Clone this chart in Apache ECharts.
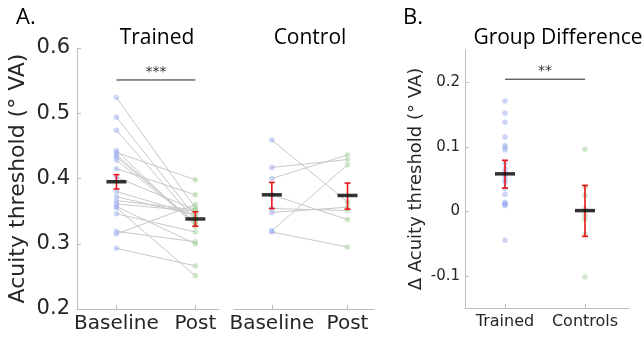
<!DOCTYPE html>
<html><head><meta charset="utf-8">
<script src="https://cdn.jsdelivr.net/npm/echarts@6/dist/echarts.min.js"></script>
<style>html,body{margin:0;padding:0;background:#fff}#c{width:644px;height:337px}</style>
</head><body><div id="c"></div>
<script>
// ---- data ----
const phaseLabels = ['Baseline', 'Post'];
const groupLabels = ['Trained', 'Controls'];
const yTicksA = [0.2, 0.3, 0.4, 0.5, 0.6];
const yTicksB = [-0.1, 0, 0.1, 0.2];

const trainedBaseline = [0.524,0.494,0.474,0.443,0.440,0.436,0.433,0.428,0.415,0.402,0.380,0.372,0.366,0.361,0.357,0.355,0.346,0.319,0.315,0.293];
const trainedPost     = [0.355,0.341,0.336,0.327,0.398,0.332,0.333,0.332,0.375,0.352,0.344,0.344,0.352,0.350,0.300,0.251,0.318,0.303,0.360,0.266];
const controlBaseline = [0.459,0.417,0.400,0.375,0.354,0.348,0.320,0.318];
const controlPost     = [0.364,0.429,0.436,0.337,0.351,0.356,0.421,0.295];

const trainedDiff = [0.171,0.152,0.138,0.115,0.102,0.099,0.095,0.075,0.066,0.060,0.055,0.049,0.045,0.035,0.026,0.014,0.012,0.010,0.009,-0.045];
const controlDiff = [0.096,0.038,0.025,0.003,-0.006,-0.012,-0.036,-0.102];

const trainedMeans = [0.395, 0.338];
const trainedErrLow = [0.384, 0.327];
const trainedErrHigh = [0.406, 0.349];
const controlMeans = [0.375, 0.374];
const controlErrLow = [0.354, 0.353];
const controlErrHigh = [0.394, 0.393];
const diffMeans = [0.058, 0.001];
const diffErrLow = [0.036, -0.039];
const diffErrHigh = [0.079, 0.040];

const sigA = {x: [1, 2], y: 0.551, text: '***'};
const sigB = {x: [1, 2], y: 0.2047, text: '**'};

// ---- styling ----
const AX = '#bdbdbd', TXT = '#262626';
const BLUE = 'rgba(150,168,238,0.6)', GREEN = 'rgba(170,212,160,0.7)', GREY = '#c8c8c8';
const FONT = 'DejaVu Sans';

const chart = echarts.init(document.getElementById('c'), null, {renderer: 'canvas'});

function xAxisCfg(grid, min, max, labels, fs, margin) {
  return {
    gridIndex: grid, type: 'value', min: min, max: max,
    axisLine: {show: true, onZero: false, lineStyle: {color: AX, width: 1}},
    axisTick: {show: true, inside: true, length: 4, customValues: [1, 2], lineStyle: {color: AX}},
    axisLabel: {customValues: [1, 2], formatter: v => labels[Math.round(v) - 1], fontSize: fs, color: TXT, fontFamily: FONT, margin: margin},
    splitLine: {show: false}
  };
}

const series = [];
function addPairs(xi, yi, base, post) {
  for (let i = 0; i < base.length; i++) {
    series.push({type: 'line', xAxisIndex: xi, yAxisIndex: yi, data: [[1, base[i]], [2, post[i]]],
      symbol: 'none', silent: true, lineStyle: {color: GREY, width: 1}, z: 1, animation: false});
  }
}
function addDots(xi, yi, xval, vals, color) {
  series.push({type: 'scatter', xAxisIndex: xi, yAxisIndex: yi, data: vals.map(v => [xval, v]),
    symbolSize: 5.5, itemStyle: {color: color}, z: 2, animation: false, silent: true});
}
function addErr(xi, yi, means, lo, hi) {
  series.push({type: 'custom', xAxisIndex: xi, yAxisIndex: yi, z: 3, animation: false, silent: true,
    data: means.map((m, i) => [i + 1, lo[i], hi[i]]),
    renderItem: function (params, api) {
      const a = api.coord([api.value(0), api.value(1)]);
      const b = api.coord([api.value(0), api.value(2)]);
      const st = {stroke: '#e8141b', lineWidth: 1.6};
      return {type: 'group', children: [
        {type: 'line', shape: {x1: a[0], y1: a[1], x2: b[0], y2: b[1]}, style: st},
        {type: 'line', shape: {x1: a[0] - 3, y1: a[1], x2: a[0] + 3, y2: a[1]}, style: st},
        {type: 'line', shape: {x1: b[0] - 3, y1: b[1], x2: b[0] + 3, y2: b[1]}, style: st}
      ]};
    }});
  series.push({type: 'scatter', xAxisIndex: xi, yAxisIndex: yi, data: means.map((m, i) => [i + 1, m]),
    symbol: 'rect', symbolSize: [20, 3.5], itemStyle: {color: '#000'}, z: 4, animation: false, silent: true});
}
function addSig(xi, yi, sig, fs) {
  series.push({type: 'custom', xAxisIndex: xi, yAxisIndex: yi, z: 5, animation: false, silent: true,
    data: [[sig.x[0], sig.x[1], sig.y]],
    renderItem: function (params, api) {
      const a = api.coord([api.value(0), api.value(2)]);
      const b = api.coord([api.value(1), api.value(2)]);
      return {type: 'group', children: [
        {type: 'line', shape: {x1: a[0], y1: a[1], x2: b[0], y2: b[1]}, style: {stroke: '#222', lineWidth: 1}},
        {type: 'text', x: (a[0] + b[0]) / 2, y: a[1] - 1, style: {text: sig.text, fill: '#333', font: fs + 'px ' + FONT, textAlign: 'center', textVerticalAlign: 'bottom'}}
      ]};
    }});
}

addPairs(0, 0, trainedBaseline, trainedPost);
addDots(0, 0, 1, trainedBaseline, BLUE);
addDots(0, 0, 2, trainedPost, GREEN);
addErr(0, 0, trainedMeans, trainedErrLow, trainedErrHigh);
addSig(0, 0, sigA, 14);

addPairs(1, 1, controlBaseline, controlPost);
addDots(1, 1, 1, controlBaseline, BLUE);
addDots(1, 1, 2, controlPost, GREEN);
addErr(1, 1, controlMeans, controlErrLow, controlErrHigh);

addDots(2, 2, 1, trainedDiff, BLUE);
addDots(2, 2, 2, controlDiff, GREEN);
addErr(2, 2, diffMeans, diffErrLow, diffErrHigh);
addSig(2, 2, sigB, 14);

const titleFont = {fontFamily: 'Open Sans', fontWeight: 'normal', color: '#000'};
chart.setOption({
  animation: false,
  backgroundColor: '#fff',
  title: [
    {text: 'A.', left: 11, top: 2, textStyle: Object.assign({fontSize: 22}, titleFont)},
    {text: 'B.', left: 398, top: 2, textStyle: Object.assign({fontSize: 22}, titleFont)},
    {text: 'Trained', left: 152, top: 23, textAlign: 'center', textStyle: Object.assign({fontSize: 21}, titleFont)},
    {text: 'Control', left: 305, top: 23, textAlign: 'center', textStyle: Object.assign({fontSize: 21}, titleFont)},
    {text: 'Group Difference', left: 553, top: 23, textAlign: 'center', textStyle: Object.assign({fontSize: 21}, titleFont)}
  ],
  grid: [
    {left: 77, top: 48, width: 142, height: 261},
    {left: 234, top: 48, width: 140, height: 261},
    {left: 465, top: 50, width: 164, height: 258}
  ],
  xAxis: [
    xAxisCfg(0, 0.5, 2.3, phaseLabels, 20, 5),
    xAxisCfg(1, 0.5, 2.35, phaseLabels, 20, 5),
    xAxisCfg(2, 0.5, 2.55, groupLabels, 16, 6)
  ],
  yAxis: [
    {gridIndex: 0, type: 'value', min: 0.2, max: 0.6, interval: 0.1,
     axisLine: {show: true, lineStyle: {color: AX}},
     axisTick: {show: true, inside: true, length: 4, customValues: yTicksA, lineStyle: {color: AX}},
     axisLabel: {customValues: yTicksA, formatter: v => v.toFixed(1), fontSize: 21, color: TXT, fontFamily: FONT, margin: 7},
     splitLine: {show: false},
     name: 'Acuity threshold (° VA)', nameLocation: 'middle', nameGap: 48, nameRotate: 90,
     nameTextStyle: {fontSize: 22, color: TXT, fontFamily: FONT}},
    {gridIndex: 1, type: 'value', min: 0.2, max: 0.6, interval: 0.1, show: false, splitLine: {show: false}},
    {gridIndex: 2, type: 'value', min: -0.15, max: 0.25, interval: 0.05,
     axisLine: {show: true, lineStyle: {color: AX}},
     axisTick: {show: true, inside: true, length: 4, customValues: yTicksB, lineStyle: {color: AX}},
     axisLabel: {customValues: yTicksB, formatter: v => (Math.abs(v) < 1e-9 ? '0' : v.toFixed(1)), fontSize: 15, color: TXT, fontFamily: FONT, margin: 5},
     splitLine: {show: false},
     name: 'Δ Acuity threshold (° VA)', nameLocation: 'middle', nameGap: 40, nameRotate: 90,
     nameTextStyle: {fontSize: 18, color: TXT, fontFamily: FONT}}
  ],
  series: series
});
</script></body></html>
